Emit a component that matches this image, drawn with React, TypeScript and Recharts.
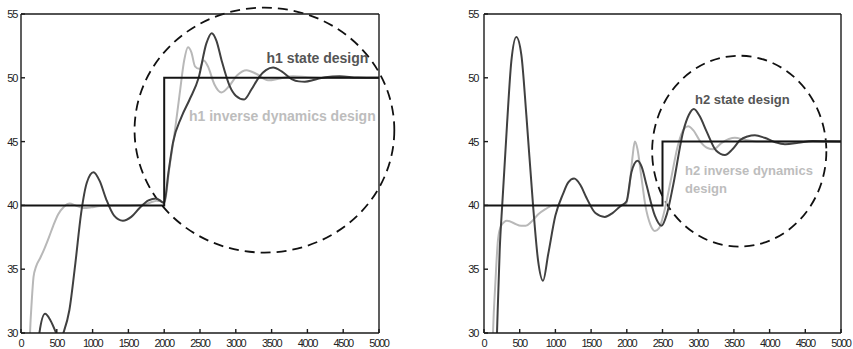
import React from "react";
import { LineChart, Line, XAxis, YAxis, ReferenceArea, ReferenceDot } from "recharts";

const X_TICKS = [0, 500, 1000, 1500, 2000, 2500, 3000, 3500, 4000, 4500, 5000];
const Y_TICKS = [30, 35, 40, 45, 50, 55];

// [time, value] pairs
const H1_REF = [[0, 40], [2000, 50], [5000, 50]];
const H1_STATE = [
  [0, 12], [180, 24], [257, 30], [336, 31.5], [410, 31.0], [490, 30], [540, 29.3], [592, 30],
  [676, 31.8], [760, 35.5], [840, 39.4], [920, 41.8], [1012, 42.6], [1100, 41.9], [1189, 40.5],
  [1300, 39.2], [1423, 38.8], [1540, 39.1], [1656, 39.8], [1780, 40.4], [1889, 40.55], [1960, 40.3],
  [2000, 40.2], [2060, 42.6], [2122, 44.9], [2239, 46.9], [2355, 48.3], [2481, 50.0], [2589, 52.7],
  [2663, 53.5], [2730, 52.9], [2800, 51.4], [2915, 49.35], [3000, 48.6], [3116, 48.3], [3220, 49.1],
  [3330, 50.1], [3421, 50.6], [3521, 50.8], [3640, 50.5], [3780, 49.9], [3880, 49.72], [3964, 49.7],
  [4100, 49.85], [4250, 50.05], [4450, 50.12], [4700, 50.02], [5000, 50.0],
];
const H1_INVERSE = [
  [0, 10], [100, 25], [126, 30], [150, 32.5], [175, 34.4], [210, 35.2], [270, 35.9], [326, 36.6],
  [390, 37.5], [450, 38.4], [520, 39.3], [600, 39.9], [680, 40.15], [760, 40.0], [870, 39.8],
  [980, 39.85], [1100, 39.95], [1300, 40.0], [1500, 40.0], [1700, 40.05], [1850, 40.3], [1930, 40.4],
  [2000, 40.2], [2076, 43.1], [2146, 45.7], [2215, 48.7], [2280, 51.4], [2332, 52.4], [2380, 52.0],
  [2430, 50.9], [2490, 50.7], [2551, 51.35], [2610, 50.9], [2700, 49.5], [2800, 48.85], [2900, 49.3],
  [3020, 50.2], [3150, 50.6], [3290, 50.3], [3450, 49.8], [3620, 49.95], [3800, 50.12], [4000, 50.05],
  [4300, 49.98], [5000, 50.0],
];
const H1_ZONE = { t: 3400, v: 45.9, dt: 1814, dv: 9.6 };
const H1_LABELS = [
  { text: "h1 state design", t: 3428, v: 51.16, dark: true },
  { text: "h1 inverse dynamics design", t: 2346, v: 46.65, dark: false },
];

const H2_REF = [[0, 40], [2500, 45], [5000, 45]];
const H2_STATE = [
  [0, 10], [150, 24], [182, 30], [220, 36.5], [257, 40.2], [322, 46.3], [383, 51.3], [453, 53.2],
  [523, 51.8], [593, 47.1], [687, 40.0], [757, 35.7], [827, 34.1], [900, 36.2], [1000, 39.2],
  [1107, 40.9], [1180, 41.8], [1262, 42.1], [1350, 41.6], [1435, 40.6], [1560, 39.4], [1692, 39.1],
  [1800, 39.4], [1902, 39.9], [1995, 40.3], [2065, 42.6], [2150, 43.5], [2210, 43.0], [2276, 41.6],
  [2393, 39.2], [2486, 38.4], [2560, 39.3], [2650, 41.6], [2790, 45.8], [2870, 47.1], [2939, 47.55],
  [3020, 47.0], [3117, 45.8], [3250, 44.3], [3374, 43.95], [3480, 44.4], [3584, 45.1], [3690, 45.4],
  [3794, 45.5], [3930, 45.3], [4080, 44.95], [4215, 44.8], [4400, 44.9], [4600, 45.05], [5000, 45.0],
];
const H2_INVERSE = [
  [0, 10], [100, 24], [126, 30], [160, 34.0], [196, 37.3], [240, 38.4], [322, 38.8], [420, 38.6],
  [520, 38.4], [584, 38.4], [660, 38.7], [760, 39.3], [860, 39.7], [967, 40.0], [1200, 40.0],
  [1500, 40.0], [1800, 40.0], [1990, 40.1], [2040, 41.6], [2080, 43.8], [2112, 45.0], [2150, 44.4],
  [2200, 42.4], [2260, 40.0], [2330, 38.5], [2393, 38.0], [2450, 38.2], [2520, 39.4], [2610, 41.8],
  [2720, 44.8], [2800, 46.0], [2860, 46.2], [2930, 45.9], [3030, 45.0], [3130, 44.5], [3210, 44.4],
  [3330, 44.9], [3430, 45.2], [3514, 45.3], [3650, 45.15], [3850, 45.0], [5000, 45.0],
];
const H2_ZONE = { t: 3575, v: 44.25, dt: 1220, dv: 7.48 };
const H2_LABELS = [
  { text: "h2 state design", t: 2955, v: 47.95, dark: true },
  { text: "h2 inverse dynamics", t: 2815, v: 42.38, dark: false },
  { text: "design", t: 2815, v: 41.0, dark: false },
];

const DARK = "#404040";
const LIGHT = "#b8b8b8";
const AXIS = { stroke: "#1a1a1a", strokeWidth: 1.4 };
const TICK = { fontSize: 11, fill: "#222", fontFamily: "Liberation Sans, Arial, sans-serif", letterSpacing: -1.3 };

const pts = (a: number[][]) => a.map(([t, v]) => ({ t, v }));

function Panel({ width, yWidth, yGap, rightMargin, refData, state, inverse, zone, labels, labelSize }: any) {
  return (
    <LineChart width={width} height={349} margin={{ top: 13, right: rightMargin - 1, bottom: 0, left: 0 }}>
      <XAxis
        dataKey="t" type="number" domain={[0, 5000]} ticks={X_TICKS} interval={0} allowDataOverflow
        height={16} tickSize={-4} tickMargin={10} tick={TICK} axisLine={AXIS} tickLine={AXIS}
      />
      <XAxis
        xAxisId="top" dataKey="t" orientation="top" type="number" domain={[0, 5000]} ticks={X_TICKS} interval={0}
        allowDataOverflow height={1} tickSize={-4} tick={false} axisLine={AXIS} tickLine={AXIS}
      />
      <YAxis
        type="number" domain={[30, 55]} ticks={Y_TICKS} interval={0} allowDataOverflow
        width={yWidth} tickSize={-4} tickMargin={yGap} tick={TICK} axisLine={AXIS} tickLine={AXIS}
      />
      <YAxis
        yAxisId="right" orientation="right" type="number" domain={[30, 55]} ticks={Y_TICKS} interval={0}
        allowDataOverflow width={1} tickSize={-4} tick={false} axisLine={AXIS} tickLine={AXIS}
      />
      {/* invisible series that ties the box axes to data */}
      <Line
        xAxisId="top" yAxisId="right" data={pts(refData)} dataKey="v" stroke="none"
        dot={false} activeDot={false} isAnimationActive={false}
      />
      <Line data={pts(inverse)} dataKey="v" type="monotone" stroke={LIGHT} strokeWidth={2} dot={false} isAnimationActive={false} />
      <Line data={pts(state)} dataKey="v" type="monotone" stroke={DARK} strokeWidth={2} dot={false} isAnimationActive={false} />
      <Line data={pts(refData)} dataKey="v" type="stepAfter" stroke="#141414" strokeWidth={2} dot={false} isAnimationActive={false} />
      <ReferenceArea
        x1={zone.t - zone.dt} x2={zone.t + zone.dt} y1={zone.v - zone.dv} y2={zone.v + zone.dv}
        ifOverflow="visible"
        shape={(p: any) => (
          <ellipse
            cx={p.x + p.width / 2} cy={p.y + p.height / 2} rx={p.width / 2} ry={p.height / 2}
            fill="none" stroke="#111" strokeWidth={1.8} strokeDasharray="10 6"
          />
        )}
      />
      {labels.map((l: any) => (
        <ReferenceDot
          key={l.text + l.v} x={l.t} y={l.v} ifOverflow="visible"
          shape={(p: any) => (
            <text
              x={p.cx} y={p.cy} fill={l.dark ? "#555" : "#bdbdbd"} fontSize={labelSize}
              fontWeight="bold" fontFamily="Liberation Sans, Arial, sans-serif"
            >
              {l.text}
            </text>
          )}
        />
      ))}
    </LineChart>
  );
}

export default function App() {
  return (
    <div style={{ position: "absolute", left: 0, top: 0, width: 853, height: 349, background: "#fff" }}>
      <div style={{ position: "absolute", left: 0, top: 0 }}>
        <Panel
          width={420} yWidth={21} yGap={8} rightMargin={41}
          refData={H1_REF} state={H1_STATE} inverse={H1_INVERSE} zone={H1_ZONE} labels={H1_LABELS} labelSize={14}
        />
      </div>
      <div style={{ position: "absolute", left: 420, top: 0 }}>
        <Panel
          width={433} yWidth={64} yGap={10} rightMargin={12}
          refData={H2_REF} state={H2_STATE} inverse={H2_INVERSE} zone={H2_ZONE} labels={H2_LABELS} labelSize={13}
        />
      </div>
    </div>
  );
}
